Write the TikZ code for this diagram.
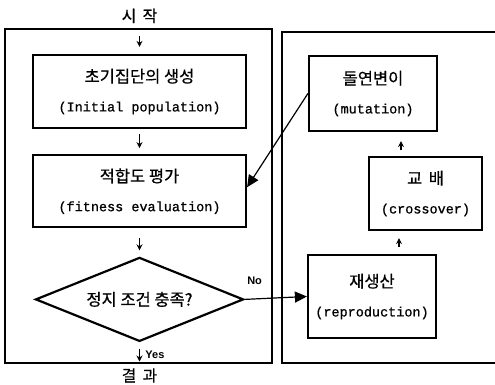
\documentclass[tikz,border=0pt]{standalone}
\usepackage{fontspec}
\setmainfont[FakeBold=0.8]{Liberation Mono}
\setsansfont{Liberation Sans}
\newfontfamily\kr[Scale=1.22,FakeBold=0.6]{Noto Sans CJK KR}
\usepackage{tikz}
\usetikzlibrary{positioning, arrows.meta, shapes.geometric}

\begin{document}
\begin{tikzpicture}
    \tikzstyle{framebox} = [line width=1.3pt]
    \tikzstyle{stepnode} = [draw, line width=2.2pt, align=center, inner sep=0pt, font=\fontsize{13.5pt}{29pt}\selectfont]
    \tikzstyle{decnode} = [diamond, draw, line width=2.2pt, inner sep=0pt, aspect=2.5, minimum width=208pt, minimum height=84pt, font=\fontsize{13.5pt}{16pt}\selectfont]
    \tikzstyle{textnode} = [inner sep=0pt, font=\fontsize{13pt}{16pt}\selectfont]
    \tikzstyle{labelnode} = [inner sep=0pt, font=\sffamily\bfseries\fontsize{11pt}{13pt}\selectfont]
    \tikzstyle{smallarrow} = [line width=1.8pt, -{Stealth[length=6pt,width=6pt]}]
    \tikzstyle{bigarrow} = [line width=1.2pt, -{Triangle[length=12pt,width=11pt]}]

    \useasboundingbox (0,0) rectangle (495pt,384pt);
    \draw [framebox] (5pt,21pt) rectangle (272pt,355pt);
    \draw [framebox] (282pt,21pt) rectangle (500pt,352pt);

    \node [stepnode, minimum width=213pt, minimum height=73pt] (init) at (139.5pt,292.5pt) {{\kr 초기집단의 생성}\\(Initial population)};
    \node [stepnode, minimum width=213pt, minimum height=72pt, anchor=north] (fit) at ([yshift=-25pt]init.south) {{\kr 적합도 평가}\\(fitness evaluation)};
    \node [decnode, anchor=north] (stop) at ([yshift=-28pt]fit.south) {\kr 정지 조건 충족?};
    \node [textnode] (start) at ([yshift=38pt]init.north) {\kr 시\hspace{0.4em}작};
    \node [textnode] (result) at ([yshift=-33pt]stop.south) {\kr 결\hspace{0.4em}과};

    \node [stepnode, minimum width=128pt, minimum height=75pt] (mut) at (373pt,290.5pt) {{\kr 돌연변이}\\(mutation)};
    \node [stepnode, minimum width=113pt, minimum height=73pt] (cross) at (425.5pt,190.5pt) {{\kr 교\hspace{0.4em}배}\\(crossover)};
    \node [stepnode, minimum width=128pt, minimum height=83pt] (repro) at (372pt,87.5pt) {{\kr 재생산}\\(reproduction)};
    \node [labelnode] (no) at ([xshift=10pt,yshift=19pt]stop.east) {No};

    \draw [smallarrow] ([yshift=-20pt]start.center) -- ([yshift=7pt]init.north);
    \draw [smallarrow] ([yshift=-5pt]init.south) -- ([yshift=6pt]fit.north);
    \draw [smallarrow] ([yshift=-10pt]fit.south) -- ([yshift=6pt]stop.north);
    \draw [smallarrow] ([yshift=-6pt]stop.south) -- ([yshift=14pt]result.center) node [labelnode, midway, right=5pt] (yes) {Yes};

    \draw [bigarrow] (stop.east) -- (repro.west);
    \draw [bigarrow] (mut.west) -- ([yshift=4pt]fit.east);
    \draw [smallarrow] ([xshift=27pt,yshift=7pt]repro.north) -- ([xshift=-26.5pt,yshift=-7pt]cross.south);
    \draw [smallarrow] ([xshift=-24.5pt,yshift=6pt]cross.north) -- ([xshift=28pt,yshift=-9pt]mut.south);
\end{tikzpicture}
\end{document}
